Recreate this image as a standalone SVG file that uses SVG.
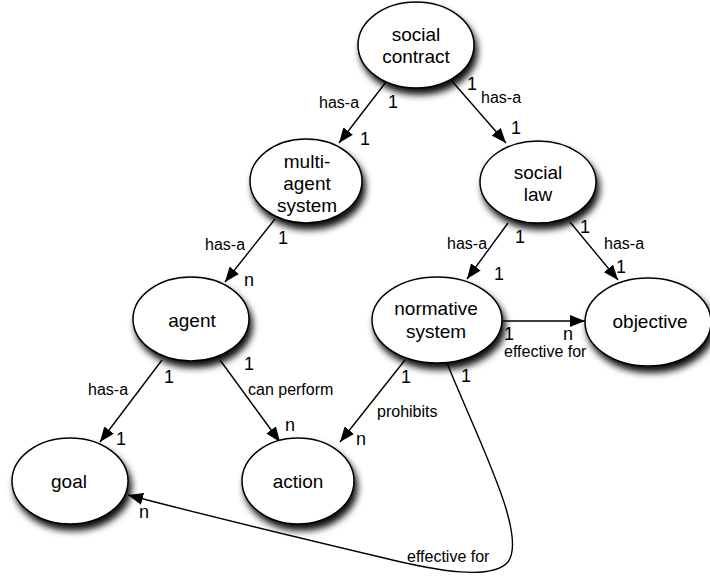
<svg xmlns="http://www.w3.org/2000/svg" width="710" height="577" viewBox="0 0 710 577">
<style>
.node ellipse{fill:#fff;stroke:#000;stroke-width:1.5;filter:url(#sh)}
.nl{font-family:"Liberation Sans",Arial,sans-serif;font-size:19px;fill:#000;text-anchor:middle}
.el{font-family:"Liberation Sans",Arial,sans-serif;font-size:16px;fill:#000}
.cn{font-family:"Liberation Sans",Arial,sans-serif;font-size:18px;fill:#000}
.edge{fill:none;stroke:#000;stroke-width:1.4;marker-end:url(#arr)}
</style>
<defs>
<filter id="sh" x="-30%" y="-30%" width="170%" height="170%">
<feDropShadow dx="3" dy="6" stdDeviation="3.5" flood-color="#000" flood-opacity="0.95"/>
</filter>
<marker id="arr" markerUnits="userSpaceOnUse" markerWidth="16" markerHeight="12" refX="15" refY="6" orient="auto">
<path d="M0,0 L15,6 L0,12 z" fill="#000"/>
</marker>
</defs>
<rect width="710" height="577" fill="#fff"/>
<g id="connectors">
<path class="edge" d="M386,82 L339,143"/>
<path class="edge" d="M451,80 L506,143"/>
<path class="edge" d="M275,219 L225,282"/>
<path class="edge" d="M508,223 L467,279"/>
<path class="edge" d="M570,222 L618,280"/>
<path class="edge" d="M502,321 L585,321"/>
<path class="edge" d="M162,360 L100,442"/>
<path class="edge" d="M220,360 L280,442"/>
<path class="edge" d="M405,360 L340,442"/>
<path class="edge" d="M447,363 C478,440 528,535 508,562 C492,580 440,572 380,557 C300,538 200,514 128,495"/>
<text class="el" x="319" y="108">has-a</text>
<text class="cn" x="388" y="108">1</text>
<text class="cn" x="360" y="145">1</text>
<text class="cn" x="467" y="90">1</text>
<text class="el" x="481" y="103">has-a</text>
<text class="cn" x="511" y="134">1</text>
<text class="el" x="205" y="250">has-a</text>
<text class="cn" x="278" y="244">1</text>
<text class="cn" x="244" y="286">n</text>
<text class="el" x="447" y="249">has-a</text>
<text class="cn" x="515" y="243">1</text>
<text class="cn" x="494" y="280">1</text>
<text class="cn" x="580" y="233">1</text>
<text class="el" x="604" y="249">has-a</text>
<text class="cn" x="616" y="273">1</text>
<text class="cn" x="504" y="340">1</text>
<text class="cn" x="563" y="340">n</text>
<text class="el" x="504" y="357">effective for</text>
<text class="el" x="88" y="395">has-a</text>
<text class="cn" x="164" y="383">1</text>
<text class="cn" x="116" y="445">1</text>
<text class="cn" x="244" y="370">1</text>
<text class="el" x="248" y="395">can perform</text>
<text class="cn" x="285" y="431">n</text>
<text class="cn" x="401" y="383">1</text>
<text class="el" x="377" y="417">prohibits</text>
<text class="cn" x="356" y="445">n</text>
<text class="cn" x="461" y="382">1</text>
<text class="el" x="407" y="562">effective for</text>
<text class="cn" x="139" y="518">n</text>
</g>
<g id="social-contract" class="node">
<ellipse cx="416" cy="45" rx="58" ry="43"/>
<text class="nl" x="416" y="41">social</text>
<text class="nl" x="416" y="63">contract</text>
</g>
<g id="multi-agent-system" class="node">
<ellipse cx="306" cy="181" rx="56" ry="42"/>
<text class="nl" x="307" y="168">multi-</text>
<text class="nl" x="307" y="190">agent</text>
<text class="nl" x="307" y="212">system</text>
</g>
<g id="social-law" class="node">
<ellipse cx="538" cy="182" rx="58" ry="41"/>
<text class="nl" x="538" y="179">social</text>
<text class="nl" x="538" y="201">law</text>
</g>
<g id="agent" class="node">
<ellipse cx="191" cy="319" rx="58" ry="42"/>
<text class="nl" x="192" y="327">agent</text>
</g>
<g id="normative-system" class="node">
<ellipse cx="437" cy="320" rx="65" ry="43"/>
<text class="nl" x="436" y="315">normative</text>
<text class="nl" x="436" y="338">system</text>
</g>
<g id="objective" class="node">
<ellipse cx="648" cy="322" rx="63" ry="44"/>
<text class="nl" x="650" y="328">objective</text>
</g>
<g id="goal" class="node">
<ellipse cx="70" cy="481" rx="58" ry="43"/>
<text class="nl" x="69" y="488">goal</text>
</g>
<g id="action" class="node">
<ellipse cx="298" cy="481" rx="56" ry="43"/>
<text class="nl" x="298" y="488">action</text>
</g>
</svg>
